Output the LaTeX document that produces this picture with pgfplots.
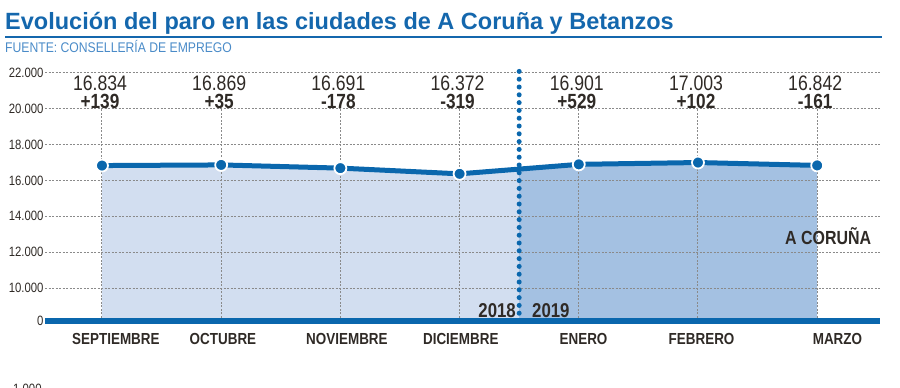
\documentclass[border=0pt]{standalone}
\usepackage{fontspec}
\setmainfont{Liberation Sans}
\newfontfamily\cf{Liberation Sans}[FakeStretch=0.84]
\newfontfamily\cfs{Liberation Sans}[FakeStretch=0.87]
\usepackage{pgfplots}
\pgfplotsset{compat=1.18}
\usepgfplotslibrary{fillbetween}
\definecolor{titleblue}{HTML}{1467AD}
\definecolor{subblue}{HTML}{4A8BC8}
\definecolor{lineblue}{HTML}{0A67AD}
\definecolor{lightfill}{HTML}{D2DEF0}
\definecolor{darkfill}{HTML}{A4C1E2}
\definecolor{gridc}{HTML}{8A8A8A}
\definecolor{txt}{HTML}{2F2A26}
\tikzset{vlab/.style={anchor=base, inner sep=0, font=\cf\fontsize{21}{23}\selectfont, text=txt, xshift=-2pt, yshift=-18pt},
         dlab/.style={anchor=base, inner sep=0, font=\cf\bfseries\fontsize{20.5}{22}\selectfont, text=txt, xshift=-2pt, yshift=-35pt}}
\begin{document}
\begin{tikzpicture}
\node[anchor=base west, inner sep=0, font=\bfseries\fontsize{23.5}{26}\selectfont, text=titleblue] at (5pt,-29pt) {Evolución del paro en las ciudades de A Coruña y Betanzos};
\draw[titleblue, line width=2pt] (5pt,-37pt) -- (882pt,-37pt);
\node[anchor=base west, inner sep=0, font=\cfs\fontsize{14}{16}\selectfont, text=subblue] at (5pt,-52pt) {FUENTE: CONSELLERÍA DE EMPREGO};
\begin{axis}[
  at={(45pt,-321pt)}, anchor=south west, scale only axis,
  width=835pt, height=248pt,
  xmin=-0.478, xmax=6.527, ymin=8158, ymax=22000,
  axis line style={draw=none}, major tick length=0pt,
  scaled y ticks=false,
  xtick={0.117,1.015,2.055,3.01,4.04,5.03,6.17},
  xticklabels={SEPTIEMBRE,OCTUBRE,NOVIEMBRE,DICIEMBRE,ENERO,FEBRERO,MARZO},
  ytick={8158,10000,12000,14000,16000,18000,20000,22000},
  yticklabels={0,10.000,12.000,14.000,16.000,18.000,20.000,22.000},
  xticklabel style={font=\cf\bfseries\fontsize{16}{18}\selectfont, text=txt, anchor=base, yshift=-23pt},
  yticklabel style={font=\cf\fontsize{13.5}{15}\selectfont, text=txt, xshift=2pt},
  clip=false,
]
\addplot[draw=none, name path=base, forget plot] coordinates {(0,8158) (6,8158)};
\addplot[draw=none, name path=line, forget plot] coordinates {
  (0,16834) (1,16869) (2,16691) (3,16372) (4,16901) (5,17003) (6,16842)};
\addplot[fill=lightfill, draw=none, forget plot] fill between[of=line and base, soft clip={domain=0:3.5}];
% grid
\pgfplotsinvokeforeach{10000,12000,14000,16000,18000,20000,22000}{
  \draw[gridc, line width=1pt, dash pattern=on 2pt off 1.5pt] (axis cs:-0.478,#1) -- (axis cs:6.527,#1);
}
\pgfplotsinvokeforeach{0,1,2,3,4,5,6}{
  \draw[gridc, line width=1pt, dash pattern=on 2pt off 1.5pt] (axis cs:#1,8158) -- (axis cs:#1,20000);
}
\addplot[fill=darkfill, draw=none, forget plot] fill between[of=line and base, soft clip={domain=3.5:6}];
\draw[lineblue, line width=6pt] (axis cs:-0.478,8158) -- (axis cs:6.527,8158);
\addplot[lineblue, line width=5pt, mark=*, mark size=6pt,
  mark options={fill=lineblue, draw=white, line width=1.8pt}] coordinates {
  (0,16834) (1,16869) (2,16691) (3,16372) (4,16901) (5,17003) (6,16842)};
\draw[lineblue, line width=5pt, line cap=round, dash pattern=on 0pt off 7.8pt] (axis cs:3.5,8158) -- (axis cs:3.5,22100);
% value labels
\node[vlab] at (axis cs:0,22000) {16.834}; \node[dlab] at (axis cs:0,22000) {+139};
\node[vlab] at (axis cs:1,22000) {16.869}; \node[dlab] at (axis cs:1,22000) {+35};
\node[vlab] at (axis cs:2,22000) {16.691}; \node[dlab] at (axis cs:2,22000) {-178};
\node[vlab] at (axis cs:3,22000) {16.372}; \node[dlab] at (axis cs:3,22000) {-319};
\node[vlab] at (axis cs:4,22000) {16.901}; \node[dlab] at (axis cs:4,22000) {+529};
\node[vlab] at (axis cs:5,22000) {17.003}; \node[dlab] at (axis cs:5,22000) {+102};
\node[vlab] at (axis cs:6,22000) {16.842}; \node[dlab] at (axis cs:6,22000) {-161};
\end{axis}
\node[anchor=base east, inner sep=0, font=\cf\bfseries\fontsize{20}{22}\selectfont, text=txt] at (516pt,-317pt) {2018};
\node[anchor=base west, inner sep=0, font=\cf\bfseries\fontsize{20}{22}\selectfont, text=txt] at (532pt,-317pt) {2019};
\node[anchor=base west, inner sep=0, font=\cf\bfseries\fontsize{19}{21}\selectfont, text=txt] at (785pt,-244pt) {A CORUÑA};
\useasboundingbox (0pt,0pt) rectangle (900pt,-388pt);
\node[anchor=north west, inner sep=0, font=\cf\fontsize{13.5}{15}\selectfont, text=txt] at (13pt,-384pt) {1.000};
\end{tikzpicture}
\end{document}
